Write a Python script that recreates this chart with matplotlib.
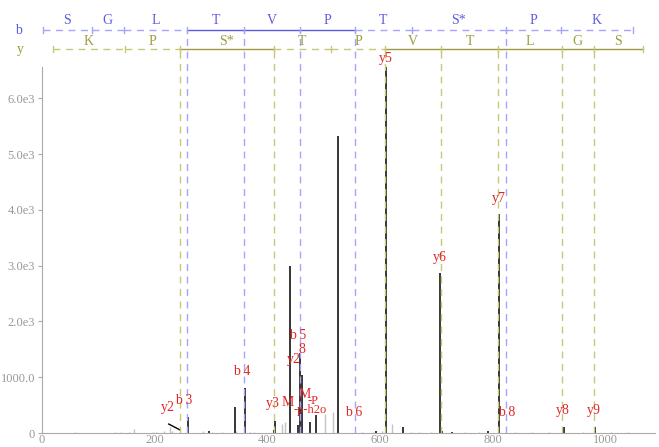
import numpy as np
import matplotlib.pyplot as plt
from matplotlib.transforms import blended_transform_factory

plt.rcParams['font.family'] = ['Liberation Serif', 'DejaVu Serif']

# peptide SGLTVPTS*PK, fragment ladders (m/z at each cleavage)
b_residues = ['S', 'G', 'L', 'T', 'V', 'P', 'T', 'S*', 'P', 'K']
b_bounds = [1.01, 88.04, 145.06, 258.14, 359.19, 458.26, 555.31, 656.36, 823.36, 920.41, 1048.50]
y_residues = ['K', 'P', 'S*', 'T', 'P', 'V', 'T', 'L', 'G', 'S']
y_bounds = [19.02, 147.11, 244.17, 411.16, 512.21, 609.26, 708.33, 809.38, 922.46, 979.48, 1066.52]
b_found = [3, 4, 5, 6, 8]
y_found = [2, 3, 5, 6, 7, 8, 9]
b_solid = [(3, 6)]
y_solid = [(2, 3), (5, 10)]

# annotated / main peaks
peak_mz = [259, 296, 343, 360, 412, 414, 440, 454, 458, 461, 476, 486, 525, 593, 611, 641, 706, 710, 728, 791, 811, 926, 981]
peak_int = [285, 30, 465, 805, 60, 215, 2990, 140, 1430, 1040, 200, 320, 5330, 40, 6560, 110, 2870, 40, 25, 30, 3925, 100, 100]
# small unassigned peaks (grey)
noise_mz = [58, 130, 140, 155, 163, 197, 203, 217, 227, 230, 285, 302, 320, 345, 370, 377, 426, 431, 502, 516,
            568, 588, 604, 621, 655, 670, 690, 750, 775, 840, 870, 900, 960, 1010, 1040]
noise_int = [15, 15, 20, 25, 70, 25, 20, 30, 100, 40, 30, 20, 25, 40, 20, 15, 160, 200, 340, 370,
             20, 25, 30, 160, 25, 15, 20, 15, 20, 15, 15, 15, 15, 10, 10]
# odd sloped trace near y2
trace_mz = [225, 245]
trace_int = [160, 55]

labels = [('y2', 224, 466, 10), ('b 3', 252, 590, 10), ('b 4', 355, 1110, 10), ('y3', 410, 520, 10),
          ('b 5', 454, 1755, 10), ('y2', 447, 1310, 10), ('8', 462, 1490, 10),
          ('M', 436, 545, 10), ('-p-h2o', 476, 420, 9), ('M', 466, 690, 10), ('-P', 481, 580, 9),
          ('b 6', 553, 360, 10), ('y5', 610, 6720, 10), ('y6', 706, 3140, 10), ('y7', 811, 4200, 10),
          ('b 8', 824, 360, 10), ('y8', 924, 410, 10), ('y9', 980, 410, 10)]

blue_txt, blue_ln = '#5c5ce0', '#a4a4ff'
olive_txt, olive_ln = '#9c9c3c', '#c8c878'

fig = plt.figure(figsize=(6.59, 4.47), dpi=100)
ax = fig.add_axes([42/659, 14/447, 613/659, 366/447])
ax.set_xlim(0, 1088)
ax.set_ylim(0, 6560)
tr = blended_transform_factory(ax.transData, ax.transAxes)

ax.vlines(noise_mz, 0, noise_int, color='#c4c4c4', lw=1.0)
ax.vlines(peak_mz, 0, peak_int, color='black', lw=1.1)
ax.plot(trace_mz, trace_int, color='black', lw=1.0)


def ladder(bounds, residues, solid, found, yl, yt, ln, txt):
    for i in range(len(bounds) - 1):
        is_solid = any(a <= i and i + 1 <= b for a, b in solid)
        ax.plot([bounds[i], bounds[i+1]], [yl, yl], transform=tr, clip_on=False, color=txt if is_solid else ln,
                lw=1.0, ls='-' if is_solid else (0, (5, 4)))
        ax.text((bounds[i] + bounds[i+1])/2, yt, residues[i], transform=tr, ha='center', va='center',
                color=txt, fontsize=10)
    for m in bounds:
        ax.plot([m, m], [yl - 0.009, yl + 0.009], transform=tr, clip_on=False, color=ln, lw=1.0)
    for k in found:
        ax.plot([bounds[k], bounds[k]], [0, yl], transform=tr, clip_on=False, color=ln, lw=1.0, ls=(0, (5, 4)))


ladder(b_bounds, b_residues, b_solid, b_found, 1.101, 1.128, blue_ln, blue_txt)
ladder(y_bounds, y_residues, y_solid, y_found, 1.049, 1.071, olive_ln, olive_txt)
fig.text(18/659, 1 - 31/447, 'b', color=blue_txt, fontsize=10, ha='center', va='center')
fig.text(20/659, 1 - 50/447, 'y', color=olive_txt, fontsize=10, ha='center', va='center')

for t, m, h, fs in labels:
    ax.text(m, h, t, color='#e02828', fontsize=fs, ha='center', va='center')

for s in ['top', 'right']:
    ax.spines[s].set_visible(False)
for s in ['left', 'bottom']:
    ax.spines[s].set_color('#aaaaaa')
ax.set_xticks([0, 200, 400, 600, 800, 1000])
ax.set_yticks([0, 1000, 2000, 3000, 4000, 5000, 6000])
ax.set_yticklabels(['0', '1000.0', '2.0e3', '3.0e3', '4.0e3', '5.0e3', '6.0e3'])
ax.tick_params(axis='y', colors='#aaaaaa', labelcolor='#999999', labelsize=9, length=3, pad=2)
ax.tick_params(axis='x', colors='#aaaaaa', labelcolor='#999999', labelsize=9, length=0, pad=1)

plt.savefig('out.png', dpi=100)
